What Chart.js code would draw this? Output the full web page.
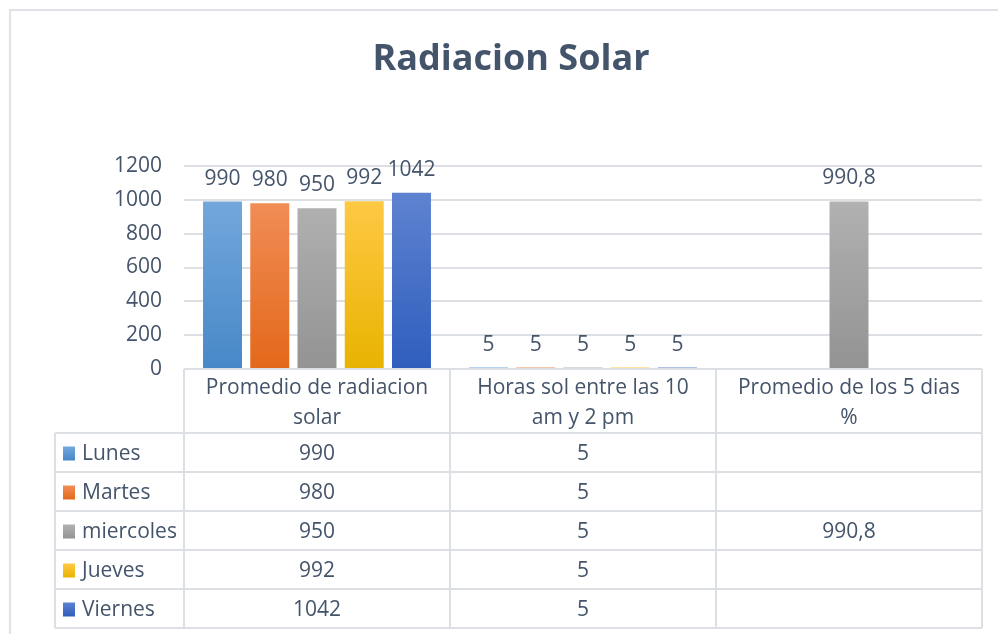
<!DOCTYPE html>
<html lang="es">
<head>
    <meta charset="UTF-8">
    <title>Radiacion Solar</title>
    <script src="https://cdn.jsdelivr.net/npm/chart.js@4.4.1/dist/chart.umd.min.js"></script>
    <style>
        body { margin: 0; background: #fff; }
    </style>
</head>
<body>
    <canvas id="solarChart" width="998" height="634"></canvas>

    <script>
        // Data
        const categories = [
            ['Promedio de radiacion', 'solar'],
            ['Horas sol entre las 10', 'am y 2 pm'],
            ['Promedio de los 5 dias', '%']
        ];
        const days = ['Lunes', 'Martes', 'miercoles', 'Jueves', 'Viernes'];
        const radiacion = [990, 980, 950, 992, 1042];
        const horasSol = [5, 5, 5, 5, 5];
        const promedio5 = [null, null, 990.8, null, null];
        const yMax = 1200;
        const yStep = 200;

        // Excel-like gradient fills, top / bottom
        const colorTop = ['#74a8dd', '#f18e58', '#b2b2b2', '#ffc946', '#5d82d0'];
        const colorBottom = ['#4788c7', '#e3681a', '#939393', '#e8b300', '#2f5ebd'];
        const textColor = '#44546a';
        const lineColor = '#dcdfe3';

        Chart.defaults.font.family = "'Open Sans', 'Liberation Sans', sans-serif";
        Chart.defaults.color = textColor;

        const fmt = v => String(v).replace('.', ',');

        function gradientFor(i) {
            return (context) => {
                const area = context.chart.chartArea;
                if (!area) return colorBottom[i];
                // very short bars (the 5 h values) show as a pale line
                if (context.raw !== null && context.raw < 50) return colorTop[i] + '80';
                const g = context.chart.ctx.createLinearGradient(0, area.top + 30, 0, area.bottom);
                g.addColorStop(0, colorTop[i]);
                g.addColorStop(1, colorBottom[i]);
                return g;
            };
        }

        const datasets = days.map((day, i) => ({
            label: day,
            data: [radiacion[i], horasSol[i], promedio5[i]],
            backgroundColor: gradientFor(i),
            categoryPercentage: 0.888,
            barPercentage: 0.825,
            minBarLength: 2
        }));

        // outer frame
        const framePlugin = {
            id: 'frame',
            beforeDraw(chart) {
                const ctx = chart.ctx;
                ctx.save();
                ctx.strokeStyle = '#dfe3e8';
                ctx.lineWidth = 2;
                ctx.strokeRect(10, 10, 1100, 1100);
                ctx.restore();
            }
        };

        // value labels above bars
        const labelPlugin = {
            id: 'valueLabels',
            afterDatasetsDraw(chart) {
                const ctx = chart.ctx;
                ctx.save();
                ctx.font = "21px 'Open Sans', 'Liberation Sans', sans-serif";
                ctx.fillStyle = textColor;
                ctx.textAlign = 'center';
                ctx.textBaseline = 'middle';
                chart.data.datasets.forEach((ds, i) => {
                    chart.getDatasetMeta(i).data.forEach((bar, j) => {
                        const v = ds.data[j];
                        if (v === null) return;
                        const top = chart.scales.y.getPixelForValue(v);
                        ctx.fillText(fmt(v), bar.x, top - 23);
                    });
                });
                ctx.restore();
            }
        };

        // data table under the plot, like Excel
        const tablePlugin = {
            id: 'dataTable',
            afterDraw(chart) {
                const ctx = chart.ctx;
                const { left, right, bottom } = chart.chartArea;
                const colW = (right - left) / categories.length;
                const tableLeft = 55;
                const headerH = 64;
                const rowH = 39;
                const rowsTop = bottom + headerH;
                const tableBottom = rowsTop + rowH * days.length;
                const columns = [radiacion, horasSol, promedio5];

                ctx.save();
                ctx.strokeStyle = lineColor;
                ctx.lineWidth = 2;
                ctx.beginPath();
                ctx.moveTo(left, bottom);
                ctx.lineTo(right, bottom);
                for (let r = 0; r <= days.length; r++) {
                    ctx.moveTo(tableLeft, rowsTop + r * rowH);
                    ctx.lineTo(right, rowsTop + r * rowH);
                }
                for (let c = 0; c <= categories.length; c++) {
                    ctx.moveTo(left + c * colW, bottom);
                    ctx.lineTo(left + c * colW, tableBottom);
                }
                ctx.moveTo(tableLeft, rowsTop);
                ctx.lineTo(tableLeft, tableBottom);
                ctx.stroke();

                ctx.font = "21px 'Open Sans', 'Liberation Sans', sans-serif";
                ctx.fillStyle = textColor;
                ctx.textBaseline = 'middle';
                ctx.textAlign = 'center';

                // header
                categories.forEach((lines, c) => {
                    const cx = left + (c + 0.5) * colW;
                    lines.forEach((t, k) => ctx.fillText(t, cx, bottom + 19 + k * 30));
                });

                // rows
                days.forEach((day, r) => {
                    const cy = rowsTop + (r + 0.5) * rowH;
                    const g = ctx.createLinearGradient(0, cy - 6, 0, cy + 8);
                    g.addColorStop(0, colorTop[r]);
                    g.addColorStop(1, colorBottom[r]);
                    ctx.fillStyle = g;
                    ctx.fillRect(63, cy - 6, 12, 14);

                    ctx.fillStyle = textColor;
                    ctx.textAlign = 'left';
                    ctx.fillText(day, 82, cy + 2);
                    ctx.textAlign = 'center';
                    columns.forEach((col, c) => {
                        if (col[r] === null) return;
                        ctx.fillText(fmt(col[r]), left + (c + 0.5) * colW, cy + 2);
                    });
                });
                ctx.restore();
            }
        };

        new Chart(document.getElementById('solarChart'), {
            type: 'bar',
            data: {
                labels: categories,
                datasets: datasets
            },
            options: {
                responsive: false,
                animation: false,
                layout: { padding: { left: 40, right: 16, top: 0, bottom: 0 } },
                plugins: {
                    legend: { display: false },
                    tooltip: { enabled: false },
                    title: {
                        display: true,
                        text: 'Radiacion Solar',
                        color: textColor,
                        font: { size: 36, weight: 'bold' },
                        padding: { top: 38, bottom: 84.8 }
                    }
                },
                scales: {
                    x: {
                        grid: { display: false },
                        border: { display: false },
                        ticks: { display: false },
                        afterFit: s => { s.height = 265; }
                    },
                    y: {
                        min: 0,
                        max: yMax,
                        ticks: {
                            stepSize: yStep,
                            padding: 22,
                            font: { size: 21 },
                            color: textColor,
                            callback: v => String(v)
                        },
                        grid: { color: lineColor, lineWidth: 2, drawTicks: false },
                        border: { display: false },
                        afterFit: s => { s.width = 144; }
                    }
                }
            },
            plugins: [framePlugin, labelPlugin, tablePlugin]
        });
    </script>
</body>
</html>
